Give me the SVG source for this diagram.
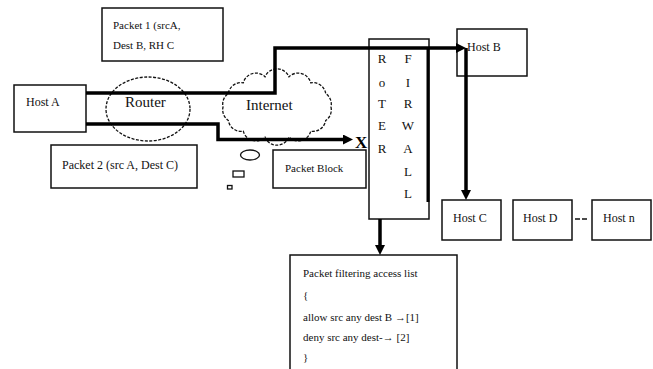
<svg xmlns="http://www.w3.org/2000/svg" width="653" height="369" viewBox="0 0 653 369">
<style>
.box{fill:#fff;stroke:#111;stroke-width:1.5}
.t{font-family:"Liberation Serif","Times New Roman",serif;font-size:12px;fill:#111}
.s{font-size:11px}
.big{font-size:15px}
.mono{font-family:"Liberation Serif","Times New Roman",serif;font-size:13px;fill:#111;text-anchor:middle}
.dash{fill:#fff;stroke:#111;stroke-width:1.3;stroke-dasharray:3 1.5}
.conn{fill:none;stroke:#000;stroke-width:3.5}
</style>
<defs>
<marker id="ah" markerUnits="userSpaceOnUse" markerWidth="10" markerHeight="10" refX="4" refY="5" orient="auto">
<path d="M0,0 L10,5 L0,10 z" fill="#000"/>
</marker>
</defs>
<rect width="653" height="369" fill="#fff"/>

<g id="packet1">
<rect class="box" x="102" y="8" width="121" height="53"/>
<text class="t s" x="113" y="29">Packet 1 (srcA,</text>
<text class="t s" x="113" y="49">Dest B, RH C</text>
</g>

<g id="hostA">
<rect class="box" x="14" y="85" width="72" height="47"/>
<text class="t" x="26" y="106">Host A</text>
</g>

<g id="router">
<ellipse class="dash" cx="148" cy="109" rx="42" ry="32"/>
<text class="t big" x="125" y="107">Router</text>
</g>

<g id="internet">
<path class="dash" d="M331,107 A13,13 0 0 1 325.7,120.5 A13,13 0 0 1 310.7,131.2 A13,13 0 0 1 289,137.2 A13,13 0 0 1 265,137.2 A13,13 0 0 1 243.3,131.2 A13,13 0 0 1 228.3,120.5 A13,13 0 0 1 223,107 A13,13 0 0 1 228.3,93.5 A13,13 0 0 1 243.3,82.8 A13,13 0 0 1 265,76.8 A13,13 0 0 1 289,76.8 A13,13 0 0 1 310.7,82.8 A13,13 0 0 1 325.7,93.5 A13,13 0 0 1 331,107 z"/>
<text class="t big" x="246" y="110">Internet</text>
</g>

<g id="thought">
<ellipse cx="250" cy="155" rx="9.5" ry="5" fill="#fff" stroke="#111" stroke-width="1.3"/>
<rect x="233" y="171" width="11" height="6" fill="#fff" stroke="#111" stroke-width="1.3"/>
<rect x="227.5" y="185.5" width="4.5" height="3.5" fill="#fff" stroke="#111" stroke-width="1.3"/>
</g>

<g id="packet2">
<rect class="box" x="51" y="145" width="146" height="43"/>
<text class="t" x="62" y="169">Packet 2 (src A, Dest C)</text>
</g>

<g id="packetBlock">
<rect class="box" x="273" y="150" width="93" height="38"/>
<text class="t s" x="285" y="172">Packet Block</text>
</g>

<g id="firewall">
<rect class="box" x="369" y="39" width="60" height="180"/>
<line x1="428" y1="48" x2="428" y2="202" stroke="#000" stroke-width="3"/>
<text class="mono" x="382" y="63">R</text>
<text class="mono" x="382" y="87">o</text>
<text class="mono" x="382" y="108">T</text>
<text class="mono" x="382" y="130">E</text>
<text class="mono" x="382" y="153">R</text>
<text class="mono" x="408" y="63">F</text>
<text class="mono" x="408" y="87">I</text>
<text class="mono" x="408" y="108">R</text>
<text class="mono" x="408" y="130">W</text>
<text class="mono" x="408" y="153">A</text>
<text class="mono" x="408" y="176">L</text>
<text class="mono" x="408" y="198">L</text>
</g>

<g id="hostB">
<rect class="box" x="457" y="29" width="70" height="47"/>
<text class="t" x="467" y="51">Host B</text>
</g>

<g id="hostC">
<rect class="box" x="442" y="200" width="59" height="40"/>
<text class="t" x="453" y="222">Host C</text>
</g>

<g id="hostD">
<rect class="box" x="513" y="200" width="59" height="40"/>
<text class="t" x="523" y="222">Host D</text>
</g>

<g id="hostN">
<rect class="box" x="592" y="200" width="59" height="40"/>
<text class="t" x="603" y="222">Host n</text>
</g>

<g id="acl">
<rect class="box" x="290" y="255" width="167" height="120"/>
<text class="t s" x="303" y="277">Packet filtering access list</text>
<text class="t s" x="303" y="299">{</text>
<text class="t s" x="303" y="321">allow src any dest B →[1]</text>
<text class="t s" x="303" y="341">deny src any dest-→ [2]</text>
<text class="t s" x="303" y="361">}</text>
</g>

<g id="connectors">
<path class="conn" d="M86,93 H275 V48 H460" marker-end="url(#ah)"/>
<path class="conn" d="M86,124 H218 V139.5 H347" marker-end="url(#ah)"/>
<text x="355" y="148" font-family="Liberation Serif,serif" font-weight="bold" font-size="17" fill="#000">X</text>
<path class="conn" d="M466,48 V194" marker-end="url(#ah)"/>
<path class="conn" d="M380,219 V249" marker-end="url(#ah)"/>
<line x1="575" y1="219" x2="589" y2="219" stroke="#111" stroke-width="1.5" stroke-dasharray="5 2"/>
</g>
</svg>
